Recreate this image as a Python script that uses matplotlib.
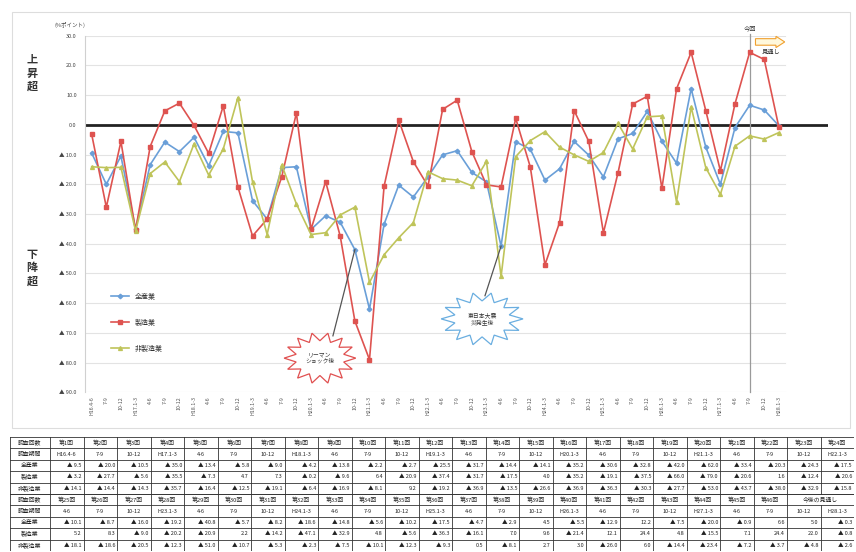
import matplotlib
matplotlib.use("Agg")
import matplotlib.pyplot as plt
from matplotlib.patches import Polygon, Rectangle, FancyArrow
import numpy as np

plt.rcParams['font.family'] = ['Noto Sans CJK JP', 'DejaVu Sans']

# ---------------- data ----------------
periods = ["H16.4-6", "7-9", "10-12",
           "H17.1-3", "4-6", "7-9", "10-12",
           "H18.1-3", "4-6", "7-9", "10-12",
           "H19.1-3", "4-6", "7-9", "10-12",
           "H20.1-3", "4-6", "7-9", "10-12",
           "H21.1-3", "4-6", "7-9", "10-12",
           "H22.1-3", "4-6", "7-9", "10-12",
           "H23.1-3", "4-6", "7-9", "10-12",
           "H24.1-3", "4-6", "7-9", "10-12",
           "H25.1-3", "4-6", "7-9", "10-12",
           "H26.1-3", "4-6", "7-9", "10-12",
           "H27.1-3", "4-6", "7-9", "10-12",
           "H28.1-3"]

all_industry = [-9.5, -20.0, -10.5, -35.0, -13.4, -5.8, -9.0, -4.2, -13.8, -2.2,
                -2.7, -25.5, -31.7, -14.4, -14.1, -35.2, -30.6, -32.8, -42.0, -62.0,
                -33.4, -20.3, -24.3, -17.5, -10.1, -8.7, -16.0, -19.2, -40.8, -5.7,
                -8.2, -18.6, -14.8, -5.6, -10.2, -17.5, -4.7, -2.9, 4.5, -5.5,
                -12.9, 12.2, -7.5, -20.0, -0.9, 6.6, 5.0, -0.3]

manufacturing = [-3.2, -27.7, -5.6, -35.5, -7.3, 4.7, 7.3, -0.2, -9.6, 6.4,
                 -20.9, -37.4, -31.7, -17.5, 4.0, -35.2, -19.1, -37.5, -66.0, -79.0,
                 -20.6, 1.6, -12.4, -20.6, 5.2, 8.3, -9.0, -20.2, -20.9, 2.2,
                 -14.2, -47.1, -32.9, 4.8, -5.6, -36.3, -16.1, 7.0, 9.6, -21.4,
                 12.1, 24.4, 4.8, -15.5, 7.1, 24.4, 22.0, -0.8]

non_manufacturing = [-14.1, -14.4, -14.3, -35.7, -16.4, -12.5, -19.1, -6.4, -16.9, -8.1,
                     9.2, -19.2, -36.9, -13.5, -26.6, -36.9, -36.3, -30.3, -27.7, -53.0,
                     -43.7, -38.0, -32.9, -15.8, -18.1, -18.6, -20.5, -12.3, -51.0, -10.7,
                     -5.3, -2.3, -7.5, -10.1, -12.3, -9.3, 0.5, -8.1, 2.7, 3.0,
                     -26.0, 6.0, -14.4, -23.4, -7.2, -3.7, -4.8, -2.6]

series_names = ["全産業", "製造業", "非製造業"]
row_labels = ["調査回数", "調査期間", "全産業", "製造業", "非製造業"]
current_idx = 45
lehman_idx = 18
quake_idx = 28

# ---------------- figure ----------------
W, H = 856, 552
fig = plt.figure(figsize=(W / 100, H / 100), dpi=100)
fig.patch.set_facecolor("white")

def fx(px):
    return px / W

def fy(py):
    return 1 - py / H

# frame around chart
fig.patches.append(Rectangle((fx(12), fy(428)), fx(850) - fx(12), fy(12) - fy(428),
                             transform=fig.transFigure, fill=False,
                             edgecolor="#dddddd", lw=0.8))

ax = fig.add_axes([fx(85), fy(392.3), fx(828) - fx(85), fy(35.7) - fy(392.3)])
x = np.arange(len(periods))
ax.set_xlim(-0.458, 50.36)
ax.set_ylim(-90, 30)

# gridlines
for v in range(-90, 31, 10):
    if v == 0:
        continue
    ax.plot([-0.458, 47.42], [v, v], color="#e3e3e3", lw=0.8, zorder=0)
ax.axhline(0, color="#222222", lw=2.0, zorder=1)

for s in ["top", "right", "bottom"]:
    ax.spines[s].set_visible(False)
ax.spines["left"].set_color("#d0d0d0")
ax.spines["left"].set_linewidth(0.8)

yt = list(range(-90, 31, 10))
ylabels = [("▲ %.1f" % abs(v)) if v < 0 else "%.1f" % v for v in yt]
ax.set_yticks(yt)
ax.set_yticklabels(ylabels, fontsize=4, color="#444444")
ax.tick_params(axis="y", length=0, pad=6)
ax.set_xticks(x)
ax.set_xticklabels(periods, rotation=90, fontsize=3.8, color="#555555", va="top")
ax.tick_params(axis="x", length=0, pad=3)

blue = "#6a9fd8"
red = "#de5350"
green = "#bfc45a"
ax.plot(x, all_industry, color=blue, lw=1.2, marker="D", ms=2.3, label=series_names[0], zorder=3)
ax.plot(x, manufacturing, color=red, lw=1.2, marker="s", ms=2.6, label=series_names[1], zorder=3)
ax.plot(x, non_manufacturing, color=green, lw=1.2, marker="^", ms=2.8, label=series_names[2], zorder=3)

leg = ax.legend(loc="upper left", bbox_to_anchor=(0.035, 0.279), frameon=False,
                fontsize=5, labelspacing=2.6, handlelength=2.6, borderaxespad=0,
                borderpad=0)
for t in leg.get_texts():
    t.set_color("#333333")

# current survey vertical line & forecast arrow
ax.plot([current_idx, current_idx], [-90, 30.7], color="#9a9a9a", lw=0.9,
        clip_on=False, zorder=2)
ax.text(current_idx, 32.6, "今回", fontsize=4.5, ha="center", va="center", color="#333333")
ax.add_patch(FancyArrow(current_idx + 0.4, 27.9, 2.0, 0, width=2.2, head_width=3.8,
                        head_length=0.6, length_includes_head=True,
                        facecolor="#fff8dc", edgecolor="#f0a030", lw=0.8,
                        clip_on=False, zorder=4))
ax.text(current_idx + 1.5, 24.6, "見通し", fontsize=4.5, ha="center", va="center", color="#333333")

# starburst balloons
def starburst(cx, cy, rx, ry, n=14, inner=0.68):
    pts = []
    for k in range(2 * n):
        a = np.pi * k / n
        r = 1.0 if k % 2 == 0 else inner
        pts.append((cx + rx * r * np.cos(a), cy + ry * r * np.sin(a)))
    return pts

lx, ly = 15.61, -78.5
ax.plot([16.5, lehman_idx], [-71.0, all_industry[lehman_idx]], color="#555555", lw=0.9, zorder=4)
ax.add_patch(Polygon(starburst(lx, ly, 2.45, 8.6), closed=True, facecolor="white",
                     edgecolor="#e05050", lw=0.9, zorder=5))
ax.text(lx, ly, "リーマン\nショック後", fontsize=4.2, ha="center", va="center",
        color="#333333", zorder=6, linespacing=1.3)

qx, qy = 26.7, -65.3
ax.plot([26.9, quake_idx], [-57.5, all_industry[quake_idx]], color="#555555", lw=0.9, zorder=4)
ax.add_patch(Polygon(starburst(qx, qy, 2.8, 8.9), closed=True, facecolor="white",
                     edgecolor="#6aaee0", lw=0.9, zorder=5))
ax.text(qx, qy, "東日本大震\n災発生後", fontsize=4.2, ha="center", va="center",
        color="#333333", zorder=6, linespacing=1.3)

# side labels
fig.text(fx(32), fy(73), "上\n昇\n超", fontsize=8, fontweight="bold", ha="center",
         va="center", linespacing=1.05, color="#333333")
fig.text(fx(32), fy(268), "下\n降\n超", fontsize=8, fontweight="bold", ha="center",
         va="center", linespacing=1.05, color="#333333")
fig.text(fx(70), fy(25), "(%ポイント)", fontsize=4, ha="center", va="center", color="#444444")

# ---------------- table ----------------
tab = fig.add_axes([fx(10), fy(551), fx(854) - fx(10), fy(437) - fy(551)])
tab.set_xlim(0, 844)
tab.set_ylim(114, 0)
tab.axis("off")
c0 = 40.0
cw = 33.5
rh = 11.4
ncol = 24

def fmt(v):
    return ("▲ %.1f" % abs(v)) if v < 0 else "%.1f" % v

for b in range(2):
    top = b * 5 * rh
    for r in range(6):
        tab.plot([0, 844], [top + r * rh] * 2, color="#333333", lw=0.6)
    for r in range(5):
        yc = top + (r + 0.5) * rh
        tab.text(c0 / 2, yc, row_labels[r], fontsize=4.2, ha="center", va="center", color="#222222")
    tab.plot([0, 0], [top, top + 5 * rh], color="#333333", lw=0.6)
    for c in range(ncol + 1):
        xb = c0 + c * cw
        if b == 1 and c == 23:
            tab.plot([xb, xb], [top + rh, top + 5 * rh], color="#333333", lw=0.6)
        else:
            tab.plot([xb, xb], [top, top + 5 * rh], color="#333333", lw=0.6)
    for c in range(ncol):
        i = b * ncol + c
        xl = c0 + c * cw
        if i <= current_idx:
            tab.text(xl + cw / 2, top + 0.5 * rh, "第%d回" % (i + 1), fontsize=4.2,
                     ha="center", va="center", color="#222222")
        tab.text(xl + cw / 2, top + 1.5 * rh, periods[i], fontsize=4,
                 ha="center", va="center", color="#222222")
        for r, ser in enumerate([all_industry, manufacturing, non_manufacturing]):
            tab.text(xl + cw - 2, top + (r + 2.5) * rh, fmt(ser[i]), fontsize=4,
                     ha="right", va="center", color="#222222")
    if b == 1:
        tab.text(c0 + 23 * cw, top + 0.5 * rh, "今後の見通し", fontsize=4.2,
                 ha="center", va="center", color="#222222")

fig.savefig("out.png", dpi=100, facecolor="white")
